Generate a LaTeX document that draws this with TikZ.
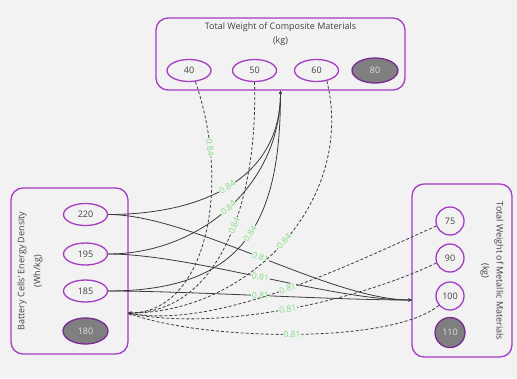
\documentclass[tikz,border=0pt]{standalone}
\usepackage{fontspec}
\setmainfont{Open Sans}
\usetikzlibrary{shapes.geometric,arrows.meta}
\definecolor{bgcol}{HTML}{F2F2F2}
\definecolor{purp}{HTML}{A53CC3}
\definecolor{seldark}{HTML}{7A2A96}
\definecolor{selgray}{HTML}{7F7F7F}
\definecolor{txtcol}{HTML}{404040}
\definecolor{linecol}{HTML}{3C3C3C}
\definecolor{wtgreen}{HTML}{80DC80}
\begin{document}
\begin{tikzpicture}[x=1pt, y=-1pt,
  grpbox/.style={draw=purp, line width=1.3pt, rounded corners=12pt, fill=bgcol, inner sep=0pt},
  vnode/.style={ellipse, draw=purp, line width=1.3pt, fill=bgcol, minimum width=44pt, minimum height=22pt,
    inner sep=0pt, text=txtcol, font=\fontsize{9}{10}\selectfont},
  mnode/.style={circle, draw=purp, line width=1.3pt, fill=bgcol, minimum size=28pt,
    inner sep=0pt, text=txtcol, font=\fontsize{9}{10}\selectfont},
  selnode/.style={fill=selgray, draw=seldark, text=white!88!black},
  ttl/.style={text=txtcol, align=center},
  link/.style={draw=linecol, line width=0.8pt, -{Stealth[length=3.5pt,width=3pt]}},
  dlink/.style={link, dash pattern=on 3pt off 2pt},
  wt/.style={sloped, fill=bgcol, inner sep=0.8pt, text=wtgreen, font=\fontsize{8.6}{9}\selectfont}
]
  \useasboundingbox[fill=bgcol] (0,0) rectangle (517,378);

  % Composite materials
  \node[grpbox, minimum width=249pt, minimum height=72pt] (compbox) at (280.5,54) {};
  \node[ttl, font=\fontsize{9}{14}\selectfont] (comptitle) at (280.5,34) {Total Weight of Composite Materials\\(kg)};
  \node[vnode] (c40) at (189,70.5) {40};
  \node[vnode] (c50) at (254.5,70.5) {50};
  \node[vnode] (c60) at (316.5,70.5) {60};
  \node[vnode, selnode, minimum width=46pt, minimum height=25pt] (c80) at (375,70.5) {80};
  \coordinate (compin) at (compbox.south);

  % Battery cells
  \node[grpbox, minimum width=117pt, minimum height=166pt] (battbox) at (69.5,271) {};
  \node[ttl, rotate=90, font=\fontsize{9}{16}\selectfont] (batttitle) at (30,271) {Battery Cells' Energy Density\\(Wh/kg)};
  \node[vnode] (b220) at (85.5,214.5) {220};
  \node[vnode] (b195) at (85.5,254) {195};
  \node[vnode] (b185) at (85.5,291) {185};
  \node[vnode, selnode, minimum width=45pt, minimum height=26pt] (b180) at (85.5,331) {180};
  \coordinate (battin) at (128,313);

  % Metallic materials
  \node[grpbox, minimum width=100pt, minimum height=173pt] (metbox) at (462,270.5) {};
  \node[ttl, rotate=-90, font=\fontsize{9}{14}\selectfont] (mettitle) at (492,271) {Total Weight of Metallic Materials\\(kg)};
  \node[mnode] (m75) at (450,221) {75};
  \node[mnode] (m90) at (450,258) {90};
  \node[mnode] (m100) at (450,296) {100};
  \node[mnode, selnode, minimum size=30pt] (m110) at (450,332.5) {110};
  \coordinate (metin) at (412,300);

  % battery -> composite
  \draw[link] (b220.east) .. controls +(88,0) and +(0,92) .. (compin) node[wt, pos=0.5] {0.84};
  \draw[link] (b195.east) .. controls +(91,0) and +(0,95) .. (compin) node[wt, pos=0.5] {0.84};
  \draw[link] (b185.east) .. controls +(141,0) and +(0,125) .. (compin) node[wt, pos=0.52] {0.84};

  % battery -> metallic
  \draw[link] (b220.east) .. controls +(83,0) and +(-82,0) .. (metin) node[wt, pos=0.5] {0.81};
  \draw[link] (b195.east) .. controls +(83,0) and +(-82,0) .. (metin) node[wt, pos=0.5] {0.81};
  \draw[link] (b185.east) .. controls +(83,0) and +(-82,0) .. (metin) node[wt, pos=0.5] {0.81};

  % composite -> battery
  \draw[dlink] (c40.-60) .. controls +(37,108) and +(77,0) .. (battin) node[wt, pos=0.2] {0.84};
  \draw[dlink] (c50.south) .. controls +(3.5,118) and +(92,0) .. (battin) node[wt, pos=0.44] {0.84};
  \draw[dlink] (c60.-45) .. controls +(29,119) and +(122,0) .. (battin) node[wt, pos=0.5] {0.84};

  % metallic -> battery
  \draw[dlink] (m75.200) .. controls +(-77,34) and +(92,17) .. (battin) node[wt, pos=0.5] {0.81};
  \draw[dlink] (m90.200) .. controls +(-77,37) and +(92,19) .. (battin) node[wt, pos=0.5] {0.81};
  \draw[dlink] (m100.220) .. controls +(-49,40) and +(72,27) .. (battin) node[wt, pos=0.5] {0.81};
\end{tikzpicture}
\end{document}
